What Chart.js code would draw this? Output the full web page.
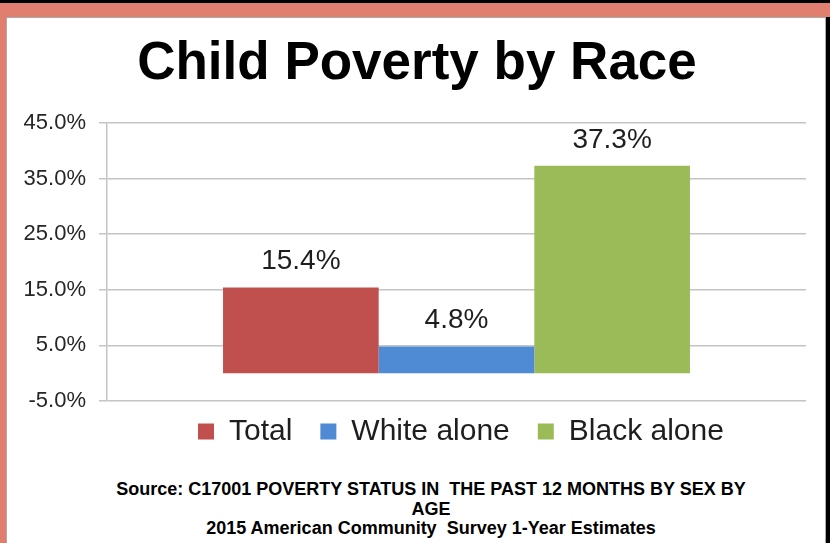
<!DOCTYPE html>
<html>
<head>
<meta charset="utf-8">
<title>Child Poverty by Race</title>
<script src="https://cdn.jsdelivr.net/npm/chart.js@4.4.1/dist/chart.umd.min.js"></script>
<style>
    html, body { margin: 0; padding: 0; width: 830px; height: 543px; overflow: hidden; background: #000; }
    .frame { position: absolute; left: 0; top: 3px; width: 830px; height: 540px; background: #E07F6F; }
    .rightEdge { position: absolute; left: 826px; top: 17px; width: 4px; height: 526px; background: #000; }
    .panel { position: absolute; left: 6px; top: 17px; width: 818px; height: 540px; background: #fff; border: 1px solid #a9a9a9; }
    #povertyChart { position: absolute; left: 0; top: 0; }
    .source {
        position: absolute; left: 81px; top: 480px; width: 700px;
        text-align: center; white-space: pre;
        font-family: 'Liberation Sans', Arial, sans-serif; font-weight: bold;
        font-size: 18px; line-height: 19.5px; color: #000;
    }
</style>
</head>
<body>
<div class="frame"></div>
<div class="rightEdge"></div>
<div class="panel"></div>
<canvas id="povertyChart" width="830" height="469"></canvas>
<div class="source">Source: C17001 POVERTY STATUS IN  THE PAST 12 MONTHS BY SEX BY
AGE
2015 American Community  Survey 1-Year Estimates</div>

<script>
    const categories = ['Child poverty'];
    const seriesNames = ['Total', 'White alone', 'Black alone'];
    const seriesValues = [[15.4], [4.8], [37.3]];
    const seriesColors = ['#C0504D', '#4F8AD5', '#9BBB59'];
    const yTicks = [-5, 5, 15, 25, 35, 45];

    // value labels above each bar
    const barValueLabels = {
        id: 'barValueLabels',
        afterDatasetsDraw(chart) {
            const ctx = chart.ctx;
            ctx.save();
            ctx.font = "28px 'Liberation Sans', Arial, sans-serif";
            ctx.fillStyle = '#1e1e1e';
            ctx.textAlign = 'center';
            ctx.textBaseline = 'middle';
            chart.data.datasets.forEach((ds, i) => {
                chart.getDatasetMeta(i).data.forEach((bar, j) => {
                    ctx.fillText(ds.data[j].toFixed(1) + '%', bar.x, bar.y - 26);
                });
            });
            ctx.restore();
        }
    };

    // title and legend are not centred on the canvas in the original
    const placeBoxes = {
        id: 'placeBoxes',
        afterLayout(chart) {
            const tb = chart.titleBlock;
            if (tb) {
                tb.left = 28;
                tb.right = 806;
            }
            const lg = chart.legend;
            if (lg) {
                const h = lg.height;
                const w = lg.width;
                lg.top = 388.6;
                lg.bottom = lg.top + h;
                lg.left = 170;
                lg.right = lg.left + w;
            }
        }
    };

    document.addEventListener('DOMContentLoaded', function () {
        try {
            renderPovertyChart();
        } catch (error) {
            console.error('Error rendering Child Poverty chart:', error);
        }
    });

    function renderPovertyChart() {
        Chart.defaults.font.family = "'Liberation Sans', Arial, sans-serif";

        const ctx = document.getElementById('povertyChart').getContext('2d');
        new Chart(ctx, {
            type: 'bar',
            data: {
                labels: categories,
                datasets: seriesNames.map((name, i) => ({
                    label: name,
                    data: seriesValues[i],
                    backgroundColor: seriesColors[i],
                    borderWidth: 0,
                    barPercentage: 1,
                    categoryPercentage: 0.668
                }))
            },
            options: {
                responsive: false,
                animation: false,
                layout: {
                    padding: { left: 6, right: 24, top: 0, bottom: 0 }
                },
                scales: {
                    x: { display: false },
                    y: {
                        min: -5,
                        max: 45,
                        afterFit: (scale) => { scale.width = 101; },
                        afterBuildTicks: (scale) => {
                            scale.ticks = yTicks.map(v => ({ value: v }));
                        },
                        ticks: {
                            padding: 13,
                            color: '#262626',
                            font: { size: 22 },
                            callback: (value) => value.toFixed(1) + '%'
                        },
                        grid: {
                            color: '#c4c4c4',
                            lineWidth: 1.5,
                            tickLength: 8
                        },
                        border: { color: '#c4c4c4', width: 1.5 }
                    }
                },
                plugins: {
                    title: {
                        display: true,
                        text: 'Child Poverty by Race',
                        color: '#000',
                        font: { size: 53, weight: 'bold', lineHeight: 1.2 },
                        padding: { top: 33, bottom: 26.4 }
                    },
                    legend: {
                        display: true,
                        position: 'bottom',
                        align: 'start',
                        labels: {
                            color: '#1e1e1e',
                            font: { size: 30 },
                            boxWidth: 16,
                            boxHeight: 16,
                            padding: 28
                        }
                    },
                    tooltip: { enabled: false }
                }
            },
            plugins: [barValueLabels, placeBoxes]
        });
    }
</script>
</body>
</html>
